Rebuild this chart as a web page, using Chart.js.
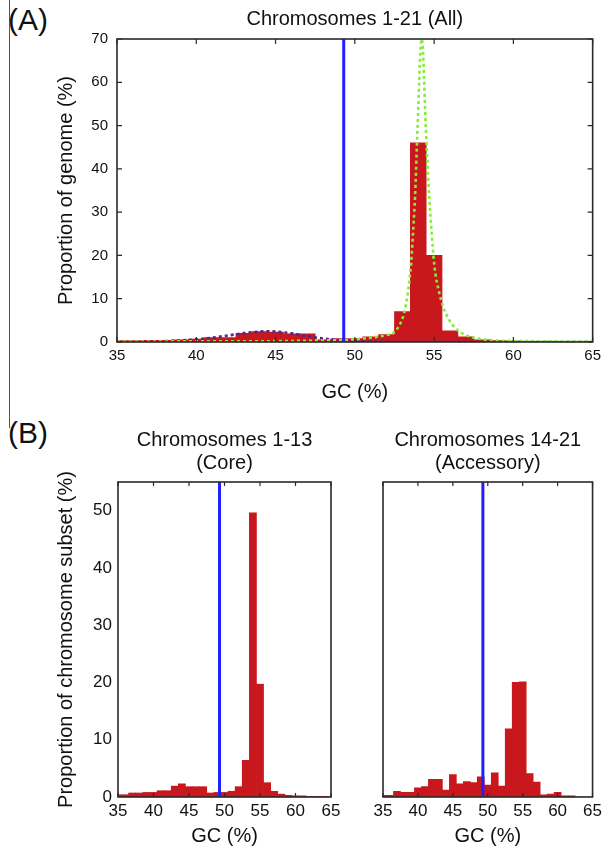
<!DOCTYPE html>
<html>
<head>
<meta charset="utf-8">
<title>GC content</title>
<script src="https://cdn.jsdelivr.net/npm/chart.js@4.4.1/dist/chart.umd.min.js"></script>
<style>
  html, body { margin: 0; padding: 0; background: #fff; }
  body { width: 606px; height: 849px; position: relative; overflow: hidden; font-family: 'Liberation Sans', Arial, sans-serif; }
  .etiqueta { position: absolute; left: 8px; font-size: 30px; line-height: 30px; color: #111; }
  .regla { position: absolute; left: 9px; top: 0; width: 1px; height: 428px; background: #555; }
  canvas { position: absolute; }
</style>
</head>
<body>
<div class="regla"></div>
<div class="etiqueta" style="top:5px">(A)</div>
<div class="etiqueta" style="top:418px">(B)</div>
<canvas id="graficoTodos" width="606" height="410" style="left:0;top:0;width:606px;height:410px"></canvas>
<canvas id="graficoCore" width="345" height="439" style="left:0;top:410px;width:345px;height:439px"></canvas>
<canvas id="graficoAccesorio" width="261" height="439" style="left:345px;top:410px;width:261px;height:439px"></canvas>
<script>
// Centros de los intervalos de GC (%), ancho 1
const gcBins = [35, 36, 37, 38, 39, 40, 41, 42, 43, 44, 45, 46, 47, 48, 49, 50,
                51, 52, 53, 54, 55, 56, 57, 58, 59, 60, 61, 62, 63, 64, 65];

// Proporción por intervalo (%)
const todosPct = [0.3, 0.3, 0.4, 0.4, 0.5, 0.7, 1.0, 1.0, 2.0, 2.4, 2.3, 1.9, 1.9, 0.5, 0.8, 0.8,
                  1.2, 1.7, 7.0, 46.0, 20.0, 2.6, 1.2, 0.5, 0.3, 0.2, 0.15, 0.1, 0.1, 0.05, 0.05];
const corePct = [0.4, 0.4, 0.7, 0.7, 0.8, 0.8, 1.1, 1.1, 1.9, 2.3, 1.8, 1.8, 1.8, 0.7, 0.8, 0.8,
                 1.0, 1.8, 6.4, 49.6, 19.7, 2.5, 1.0, 0.5, 0.3, 0.2, 0.2, 0.1, 0.1, 0.1, 0.05];
const accesorioPct = [0.3, 0.3, 1.0, 0.8, 0.8, 1.6, 1.8, 3.1, 3.1, 1.2, 3.9, 2.3, 2.7, 2.5, 3.5, 2.1,
                      4.2, 1.9, 11.9, 20.0, 20.1, 4.1, 2.6, 0.4, 0.5, 0.8, 0.2, 0.2, 0, 0, 0];

// Curva ajustada al pico principal (verde)
const verdeX = [35, 40, 45, 48, 49.5, 51, 52, 52.4, 52.8, 53.1, 53.35, 53.55, 53.7, 53.8, 53.92,
                54.0, 54.06, 54.13, 54.22, 54.3, 54.37, 54.45, 54.52, 54.6, 54.69, 54.85, 55.0,
                55.35, 55.74, 56.2, 56.78, 57.5, 58.46, 60, 62, 65];
const verdeY = [0.1, 0.15, 0.2, 0.35, 0.5, 1.0, 1.6, 2.0, 3.8, 6.6, 11.5, 18.2, 27, 33.6, 45.9,
                54, 60.5, 67, 70, 67, 60.5, 52, 45.9, 40, 33.6, 25, 18.2,
                11, 6.6, 3.8, 2.0, 1.0, 0.46, 0.25, 0.15, 0.1];

// Curva ajustada al componente pobre en GC (morado)
const moradoX = [35, 36, 37, 38, 39, 40, 41, 42, 43, 44, 44.5, 45, 46, 47, 48, 49, 50, 51, 52, 55, 60, 65];
const moradoY = [0.05, 0.08, 0.12, 0.2, 0.35, 0.6, 1.0, 1.5, 2.05, 2.4, 2.5, 2.4, 2.0, 1.35, 0.8, 0.4, 0.15, 0.05, 0.02, 0, 0, 0];

// GC medio del genoma (línea azul)
const gcMedio = 49.3;

// Marcas de los ejes
const ticksGC = [35, 40, 45, 50, 55, 60, 65];
const ticksTodos = [0, 10, 20, 30, 40, 50, 60, 70];
const ticksSubset = [0, 10, 20, 30, 40, 50];

const ROJO = '#c8171d';
const AZUL = '#1f1fff';
const VERDE = '#86ec3c';
const MORADO = '#4f2690';
const FUENTE = "'Liberation Sans', Arial, sans-serif";

Chart.defaults.font.family = FUENTE;
Chart.defaults.color = '#111';

const pares = (xs, ys) => xs.map((x, i) => ({ x: x, y: ys[i] }));

// Marco cerrado con marcas hacia adentro, al estilo gnuplot
const marcoGnuplot = {
    id: 'marcoGnuplot',
    afterDatasetsDraw(chart, args, opts) {
        const { ctx, chartArea: a, scales } = chart;
        const largo = opts.largo || 5;
        ctx.save();
        ctx.strokeStyle = '#2a2a2a';
        ctx.lineWidth = 1.2;
        ctx.beginPath();
        (opts.ticksX || []).forEach(v => {
            const px = scales.x.getPixelForValue(v);
            ctx.moveTo(px, a.bottom); ctx.lineTo(px, a.bottom - largo);
            ctx.moveTo(px, a.top); ctx.lineTo(px, a.top + largo);
        });
        (opts.ticksY || []).forEach(v => {
            const py = scales.y.getPixelForValue(v);
            ctx.moveTo(a.left, py); ctx.lineTo(a.left + largo, py);
            ctx.moveTo(a.right, py); ctx.lineTo(a.right - largo, py);
        });
        ctx.stroke();
        ctx.lineWidth = 1.6;
        ctx.strokeRect(a.left, a.top, a.right - a.left, a.bottom - a.top);
        ctx.restore();
    }
};

function datasetsHistograma(valores, yMax) {
    return [
        { type: 'line', data: [{ x: gcMedio, y: 0 }, { x: gcMedio, y: yMax }],
          borderColor: AZUL, borderWidth: 3, pointRadius: 0 },
        { type: 'bar', data: pares(gcBins, valores), backgroundColor: ROJO,
          borderWidth: 0, barPercentage: 1, categoryPercentage: 1, clip: 0 }
    ];
}

function ejeX(tamTicks, padTicks, alto, padTitulo) {
    return {
        type: 'linear', min: 35, max: 65, offset: false,
        grid: { display: false, drawTicks: false }, border: { display: false },
        afterBuildTicks: s => { s.ticks = ticksGC.map(v => ({ value: v })); },
        ticks: { font: { size: tamTicks }, padding: padTicks, maxRotation: 0, autoSkip: false, color: '#111' },
        title: { display: true, text: 'GC (%)', font: { size: 20 }, color: '#111', padding: { top: 0, bottom: padTitulo } },
        afterFit: s => { s.height = alto; }
    };
}

// (A) Cromosomas 1-21
const datosA = datasetsHistograma(todosPct, 70);
datosA.splice(1, 0,
    { type: 'line', data: pares(verdeX, verdeY), borderColor: VERDE, borderWidth: 2.6,
      borderDash: [3, 3], pointRadius: 0, cubicInterpolationMode: 'monotone' },
    { type: 'line', data: pares(moradoX, moradoY), borderColor: MORADO, borderWidth: 2.6,
      borderDash: [3, 3], pointRadius: 0, cubicInterpolationMode: 'monotone' }
);

new Chart(document.getElementById('graficoTodos'), {
    type: 'bar',
    data: { datasets: datosA },
    options: {
        responsive: false, animation: false, devicePixelRatio: 1,
        layout: { padding: { left: 0, right: 12, top: 0, bottom: 0 } },
        plugins: {
            legend: { display: false }, tooltip: { enabled: false },
            title: { display: true, text: 'Chromosomes 1-21 (All)', fullSize: false, color: '#111',
                     font: { size: 20, weight: 'normal', lineHeight: 1.2 }, padding: { top: 7, bottom: 8 } },
            marcoGnuplot: { ticksX: ticksGC, ticksY: ticksTodos, largo: 5 }
        },
        scales: {
            x: ejeX(15, 5, 68, 6),
            y: {
                min: 0, max: 70,
                grid: { display: false, drawTicks: false }, border: { display: false },
                afterBuildTicks: s => { s.ticks = ticksTodos.map(v => ({ value: v })); },
                ticks: { font: { size: 15 }, padding: 9, color: '#111' },
                title: { display: true, text: 'Proportion of genome (%)', font: { size: 20 }, color: '#111',
                         padding: { top: 54, bottom: 0 } },
                afterFit: s => { s.width = 117; }
            }
        }
    },
    plugins: [marcoGnuplot]
});

// (B) Cromosomas núcleo y accesorios; el panel accesorio no rotula el eje Y
function crearSubset(id, titulo, valores, conEjeY) {
    return new Chart(document.getElementById(id), {
        type: 'bar',
        data: { datasets: datasetsHistograma(valores, 55) },
        options: {
            responsive: false, animation: false, devicePixelRatio: 1,
            layout: { padding: { left: 0, right: conEjeY ? 14 : 12, top: 0, bottom: 0 } },
            plugins: {
                legend: { display: false }, tooltip: { enabled: false },
                title: { display: true, text: titulo, fullSize: false, color: '#111',
                         font: { size: 20, weight: 'normal', lineHeight: 1.15 }, padding: { top: 18.5, bottom: 7.5 } },
                marcoGnuplot: { ticksX: ticksGC, largo: 4 }
            },
            scales: {
                x: ejeX(17, 4, 52, 1),
                y: {
                    min: 0, max: 55,
                    grid: { display: false, drawTicks: false }, border: { display: false },
                    afterBuildTicks: s => { s.ticks = ticksSubset.map(v => ({ value: v })); },
                    ticks: { display: conEjeY, font: { size: 17 }, padding: 6, color: '#111' },
                    title: { display: conEjeY, text: 'Proportion of chromosome subset (%)', font: { size: 20 }, color: '#111',
                             padding: { top: 54, bottom: 0 } },
                    afterFit: s => { s.width = conEjeY ? 118 : 38; }
                }
            }
        },
        plugins: [marcoGnuplot]
    });
}

crearSubset('graficoCore', ['Chromosomes 1-13', '(Core)'], corePct, true);
crearSubset('graficoAccesorio', ['Chromosomes 14-21', '(Accessory)'], accesorioPct, false);
</script>
</body>
</html>
